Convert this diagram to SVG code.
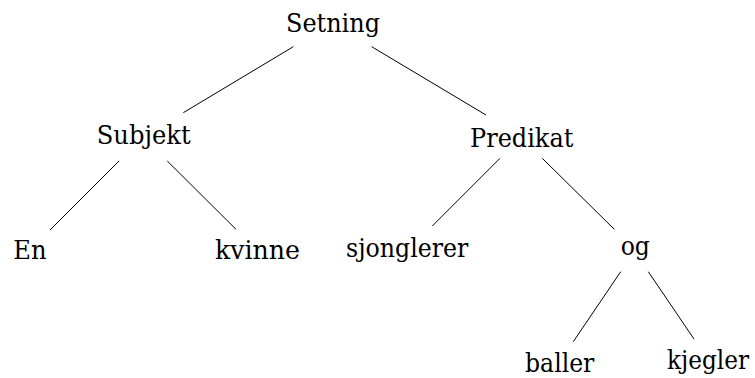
<svg xmlns="http://www.w3.org/2000/svg" width="755" height="378" viewBox="0 0 755 378">
<style>
text{font-family:"DejaVu Serif","Liberation Serif",serif;font-size:26px;fill:#000;text-anchor:middle}
.e line{stroke:#000;stroke-width:1}
</style>
<rect width="755" height="378" fill="#fff"/>
<g class="e" id="connectors">
<line x1="293.3" y1="46.7" x2="183.3" y2="112.7"/>
<line x1="371.7" y1="46.7" x2="486" y2="115"/>
<line x1="119" y1="161" x2="50" y2="230"/>
<line x1="167.3" y1="161" x2="236" y2="229.3"/>
<line x1="500" y1="158.3" x2="432.3" y2="226"/>
<line x1="542.3" y1="158.3" x2="614.3" y2="229.3"/>
<line x1="620.7" y1="271.7" x2="573.3" y2="341.7"/>
<line x1="648.3" y1="271.7" x2="694" y2="339"/>
</g>
<g id="n-setning"><text x="333" y="32" textLength="94" lengthAdjust="spacingAndGlyphs">Setning</text></g>
<g id="n-subjekt"><text x="143.7" y="143.5" textLength="94" lengthAdjust="spacingAndGlyphs">Subjekt</text></g>
<g id="n-predikat"><text x="521.7" y="147" textLength="103.3" lengthAdjust="spacingAndGlyphs">Predikat</text></g>
<g id="n-en"><text x="30" y="259" textLength="33.3" lengthAdjust="spacingAndGlyphs">En</text></g>
<g id="n-kvinne"><text x="257.5" y="259" textLength="85" lengthAdjust="spacingAndGlyphs">kvinne</text></g>
<g id="n-sjonglerer"><text x="407.2" y="256.7" textLength="122.3" lengthAdjust="spacingAndGlyphs">sjonglerer</text></g>
<g id="n-og"><text x="635.3" y="255" textLength="29.3" lengthAdjust="spacingAndGlyphs">og</text></g>
<g id="n-baller"><text x="559.7" y="372" textLength="69.3" lengthAdjust="spacingAndGlyphs">baller</text></g>
<g id="n-kjegler"><text x="708" y="369" textLength="82" lengthAdjust="spacingAndGlyphs">kjegler</text></g>
</svg>
